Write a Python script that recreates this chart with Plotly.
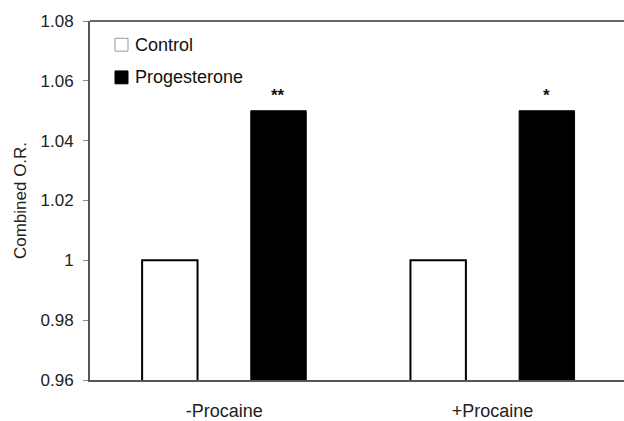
import plotly.graph_objects as go

categories = ["-Procaine", "+Procaine"]
control = [1.0, 1.0]
progesterone = [1.05, 1.05]
significance = ["**", "*"]
y_ticks = [0.96, 0.98, 1.0, 1.02, 1.04, 1.06, 1.08]
y_tick_text = ["0.96", "0.98", "1", "1.02", "1.04", "1.06", "1.08"]
legend_names = ["Control", "Progesterone"]
legend_fills = ["white", "black"]
legend_lines = ["#999", "black"]

FONT = "Liberation Sans, Arial, sans-serif"
L, T, B, W, H = 90, 21, 37, 624, 421
PW, PH = W - L, H - T - B


def px(x):
    return (x - L) / PW


def py(y):
    return (H - B - y) / PH


fig = go.Figure()
fig.add_trace(go.Bar(
    x=categories, y=control, name="Control",
    marker=dict(color="white", line=dict(color="black", width=2)),
))
fig.add_trace(go.Bar(
    x=categories, y=progesterone, name="Progesterone",
    marker=dict(color="black", line=dict(color="black", width=1)),
))

for i, s in enumerate(significance):
    fig.add_annotation(
        x=i + 0.2, y=progesterone[i], xref="x", yref="y",
        text="<b>" + s + "</b>", showarrow=False, yanchor="bottom", yshift=4,
        font=dict(family=FONT, size=17, color="#111"),
    )

# manual legend (top-left inside the frame)
for k, (name, fc, lc) in enumerate(zip(legend_names, legend_fills, legend_lines)):
    cy = 45 + 33 * k
    fig.add_shape(type="rect", xref="paper", yref="paper",
                  x0=px(115), x1=px(128), y0=py(cy + 6.5), y1=py(cy - 6.5),
                  fillcolor=fc, line=dict(color=lc, width=1))
    fig.add_annotation(x=px(133), y=py(cy), xref="paper", yref="paper",
                       text=name, showarrow=False, xanchor="left", yanchor="middle",
                       font=dict(family=FONT, size=18, color="#111"))

# top border of the plot frame
fig.add_shape(type="line", xref="paper", yref="paper", x0=0, x1=1, y0=1, y1=1,
              line=dict(color="#666", width=2))

fig.update_layout(
    width=W, height=H,
    margin=dict(l=L, r=0, t=T, b=B),
    paper_bgcolor="white", plot_bgcolor="white",
    barmode="group", bargap=0.19, bargroupgap=0.49,
    font=dict(family=FONT, size=17, color="#222"),
    showlegend=False,
    xaxis=dict(
        range=[-0.5, 1.49], showgrid=False, showline=True, linecolor="#555",
        linewidth=2, ticks="", ticklabelstandoff=13,
        tickfont=dict(family=FONT, size=18, color="#222"),
    ),
    yaxis=dict(
        range=[0.96, 1.08], tickvals=y_ticks, ticktext=y_tick_text,
        showgrid=False, zeroline=False, showline=True, linecolor="#555",
        linewidth=2, ticks="outside", ticklen=5, tickcolor="#888",
        ticklabelstandoff=6,
        tickfont=dict(family=FONT, size=17, color="#222"),
        title=dict(text="Combined O.R.", standoff=10,
                   font=dict(family=FONT, size=17, color="#222")),
    ),
)

fig.write_html("out.html")
